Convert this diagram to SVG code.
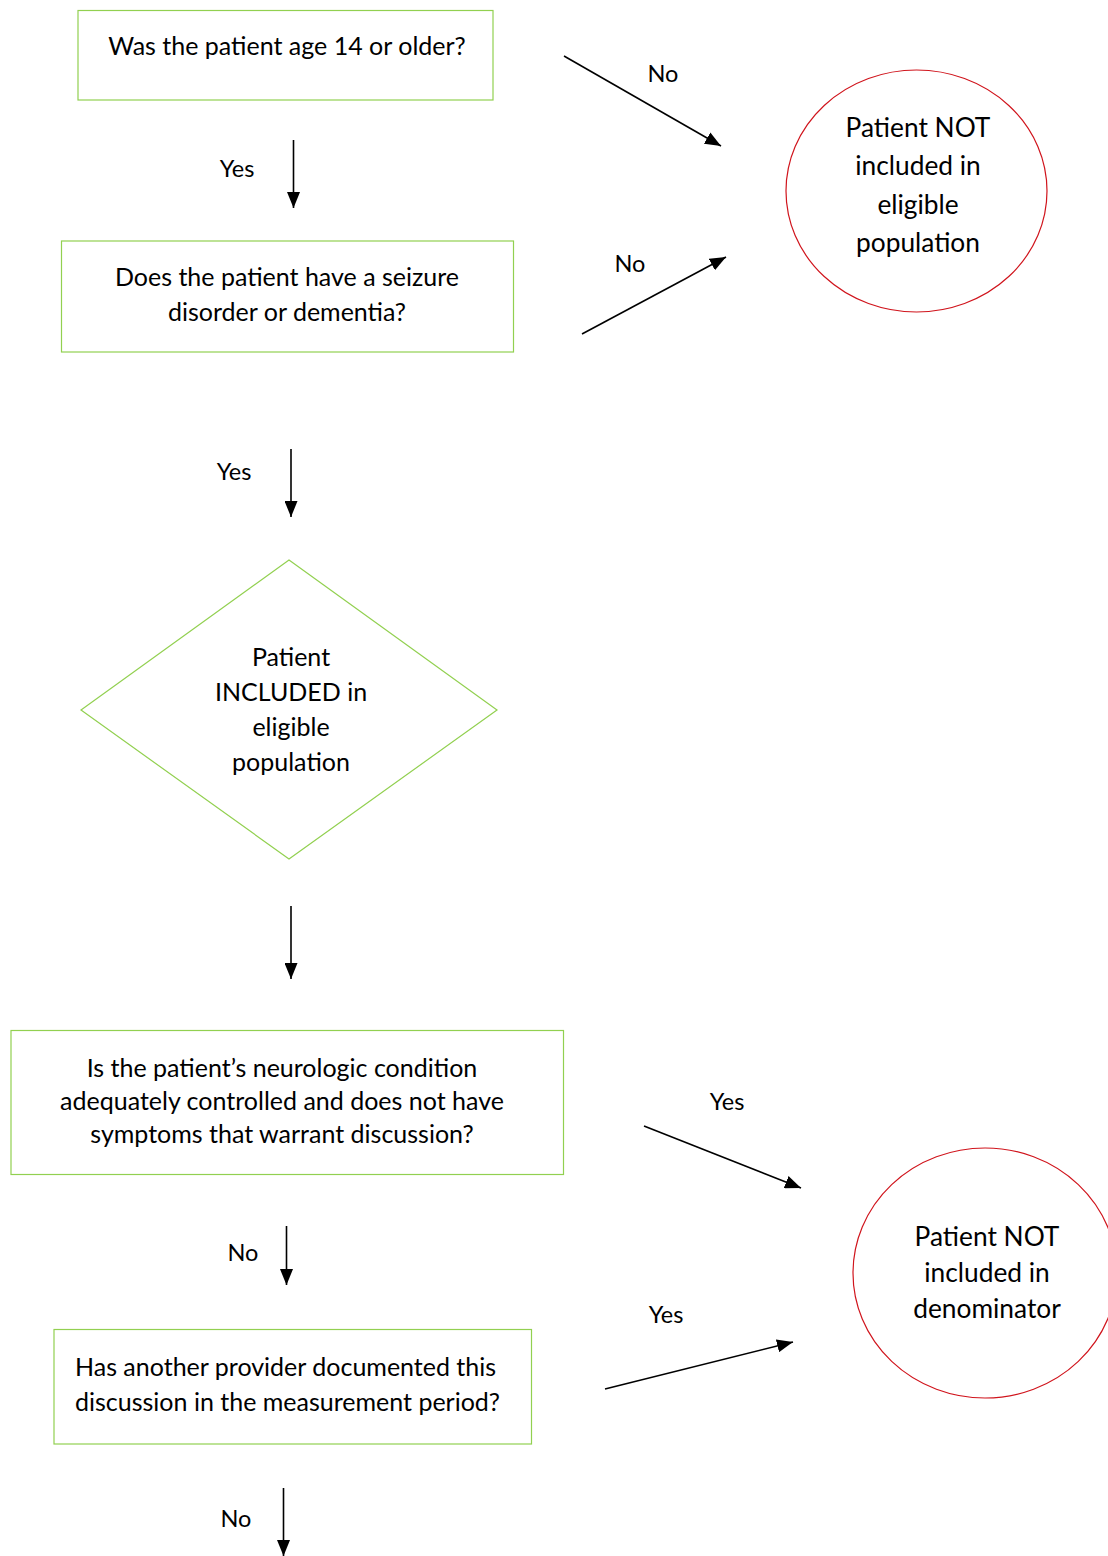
<svg xmlns="http://www.w3.org/2000/svg" width="1108" height="1556" viewBox="0 0 1108 1556">
<style>
text{font-family:Lato,"Open Sans","Liberation Sans",sans-serif;font-size:25px;fill:#000;text-anchor:middle}
.box{fill:#fff;stroke:#92d050;stroke-width:1.2}
.circ{fill:#fff;stroke:#d0141c;stroke-width:1.2}
.ct{font-size:26.3px}
.conn line{stroke:#000;stroke-width:1.6;marker-end:url(#ah)}
.lab{font-size:23.5px}
</style>
<defs>
<marker id="ah" viewBox="0 0 10 10" refX="10" refY="5" markerWidth="16" markerHeight="13" markerUnits="userSpaceOnUse" orient="auto" preserveAspectRatio="none">
<path d="M0,0 L10,5 L0,10 Z" fill="#000"/>
</marker>
</defs>
<rect width="1108" height="1556" fill="#fff"/>
<g id="n1">
<rect class="box" x="78" y="10.5" width="415" height="89.5"/>
<text x="287" y="55">Was the patient age 14 or older?</text>
</g>
<g id="n2">
<rect class="box" x="61.5" y="241" width="452" height="111"/>
<text x="287" y="286">Does the patient have a seizure</text>
<text x="287" y="321">disorder or dementia?</text>
</g>
<g id="n3">
<ellipse class="circ" cx="916.5" cy="191" rx="130.5" ry="121"/>
<text class="ct" x="918" y="137">Patient NOT</text>
<text class="ct" x="918" y="175">included in</text>
<text class="ct" x="918" y="214">eligible</text>
<text class="ct" x="918" y="252">population</text>
</g>
<g id="n4">
<polygon class="box" points="289,560 497,710 289,859 81,710"/>
<text x="291" y="666">Patient</text>
<text x="291" y="701">INCLUDED in</text>
<text x="291" y="736">eligible</text>
<text x="291" y="771">population</text>
</g>
<g id="n5">
<rect class="box" x="11" y="1030.5" width="552.5" height="144"/>
<text x="282" y="1077">Is the patient’s neurologic condition</text>
<text x="282" y="1110">adequately controlled and does not have</text>
<text x="282" y="1143">symptoms that warrant discussion?</text>
</g>
<g id="n6">
<ellipse class="circ" cx="985" cy="1273" rx="132" ry="125"/>
<text class="ct" x="987" y="1246">Patient NOT</text>
<text class="ct" x="987" y="1282">included in</text>
<text class="ct" x="987" y="1318">denominator</text>
</g>
<g id="n7">
<rect class="box" x="54" y="1329.5" width="477.5" height="114.5"/>
<text x="75" y="1376" style="text-anchor:start">Has another provider documented this</text>
<text x="75" y="1411" style="text-anchor:start">discussion in the measurement period?</text>
</g>
<g id="connectors" class="conn">
<line x1="293.5" y1="140" x2="293.5" y2="208"/>
<line x1="564" y1="56" x2="721" y2="146"/>
<line x1="582" y1="334" x2="726" y2="257"/>
<line x1="291" y1="449" x2="291" y2="517"/>
<line x1="291" y1="906" x2="291" y2="979"/>
<line x1="644" y1="1126" x2="801" y2="1188"/>
<line x1="286.5" y1="1226" x2="286.5" y2="1285"/>
<line x1="605" y1="1389" x2="793" y2="1342"/>
<line x1="283.5" y1="1488" x2="283.5" y2="1556"/>
</g>
<g id="labels">
<text class="lab" x="237" y="177">Yes</text>
<text class="lab" x="663" y="82">No</text>
<text class="lab" x="630" y="272">No</text>
<text class="lab" x="234" y="480">Yes</text>
<text class="lab" x="727" y="1110">Yes</text>
<text class="lab" x="243" y="1261">No</text>
<text class="lab" x="666" y="1323">Yes</text>
<text class="lab" x="236" y="1527">No</text>
</g>
</svg>
